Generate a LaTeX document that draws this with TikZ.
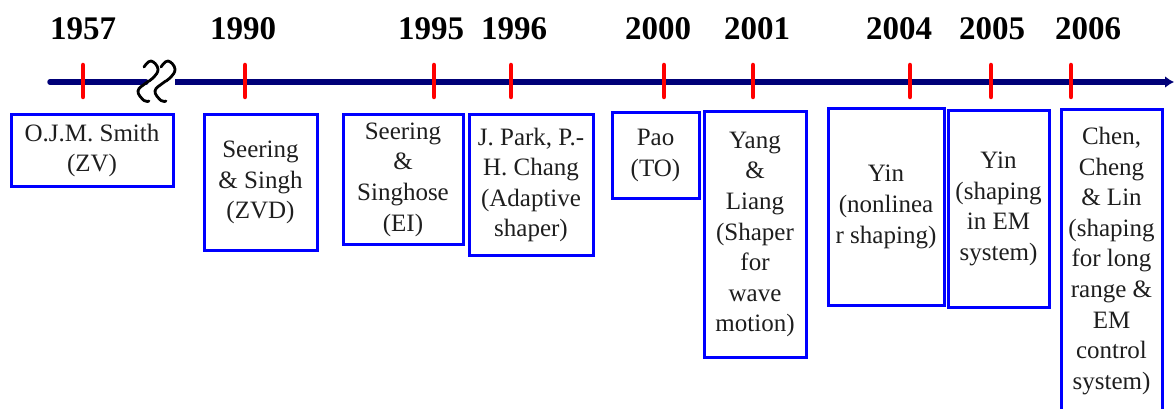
\documentclass[tikz,border=0pt]{standalone}
\usepackage{fontspec}
\setmainfont{Liberation Serif}
\usetikzlibrary{arrows.meta}
\definecolor{axisnavy}{RGB}{0,0,120}
\definecolor{boxblue}{RGB}{0,0,255}
\definecolor{tickred}{RGB}{255,0,0}
\definecolor{txt}{RGB}{30,30,30}
\tikzset{
  yearlabel/.style={font=\fontsize{33}{36}\selectfont\bfseries, text=black, inner sep=0pt, anchor=base},
  evbox/.style={draw=boxblue, line width=3pt, align=center, inner sep=0pt, text=txt,
    font=\fontsize{25}{30.6}\selectfont},
  tickmark/.style={draw=tickred, line width=4.5pt, line cap=round},
  axisline/.style={draw=axisnavy, line width=5.5pt},
  squiggle/.style={draw=black, line width=2.8pt, line cap=round}
}
\begin{document}
\begin{tikzpicture}[x=1pt,y=-1pt]
\useasboundingbox (0,0) rectangle (1175,409);
\clip (0,0) rectangle (1175,409);
% axis
\coordinate (a0) at (50,82);
\coordinate (a1) at (146,82);
\coordinate (b0) at (175,82);
\coordinate (b1) at (1174,82);
\draw[axisline, line cap=round] (a0) -- (a1);
\draw[axisline, -{Latex[length=9pt,width=12pt]}] (b0) -- (b1);
% break squiggles
\foreach \cx in {150,167}{
  \draw[squiggle] plot[smooth, tension=0.75] coordinates {(\cx-6,67) (\cx+1,61) (\cx+8,69) (\cx+3,78) (\cx-4,83) (\cx-12,91) (\cx-6,100.5) (\cx-1,101)};
}
% ticks and years
\foreach \name/\tx/\lx/\yr in {t1/83/83/1957, t2/245/243/1990, t3/434/431/1995, t4/511/514/1996, t5/664/658/2000, t6/753/757/2001, t7/910/899/2004, t8/991/992/2005, t9/1071/1088/2006}{
  \coordinate (\name a) at (\tx,65);
  \coordinate (\name b) at (\tx,97);
  \draw[tickmark] (\name a) -- (\name b);
  \node[yearlabel] (y\name) at (\lx,40) {\yr};
}
% boxes
\node[evbox, minimum width=162pt, minimum height=71pt] (e1) at (92,150.5) {O.J.M. Smith\\(ZV)};
\node[evbox, minimum width=113pt, minimum height=135pt] (e2) at (260.5,182.5) {Seering\\\& Singh\\(ZVD)};
\node[evbox, minimum width=120pt, minimum height=129pt] (e3) at (403,179.5) {Seering\\\&\\Singhose\\(EI)};
\node[evbox, minimum width=124pt, minimum height=140pt] (e4) at (531,185) {J. Park, P.-\\H. Chang\\(Adaptive\\shaper)};
\node[evbox, minimum width=87pt, minimum height=85pt] (e5) at (655.5,155.5) {Pao\\(TO)};
\node[evbox, minimum width=102pt, minimum height=245pt] (e6) at (755,234.5) {Yang\\\&\\Liang\\(Shaper\\for\\wave\\motion)};
\node[evbox, minimum width=116pt, minimum height=196pt] (e7) at (886,207) {Yin\\(nonlinea\\r shaping)};
\node[evbox, minimum width=101pt, minimum height=196pt] (e8) at (998.5,209) {Yin\\(shaping\\in EM\\system)};
\node[evbox, minimum width=101pt, minimum height=302pt] (e9) at (1111.5,261) {Chen,\\Cheng\\\& Lin\\(shaping\\for long\\range \&\\EM\\control\\system)};
\end{tikzpicture}
\end{document}
